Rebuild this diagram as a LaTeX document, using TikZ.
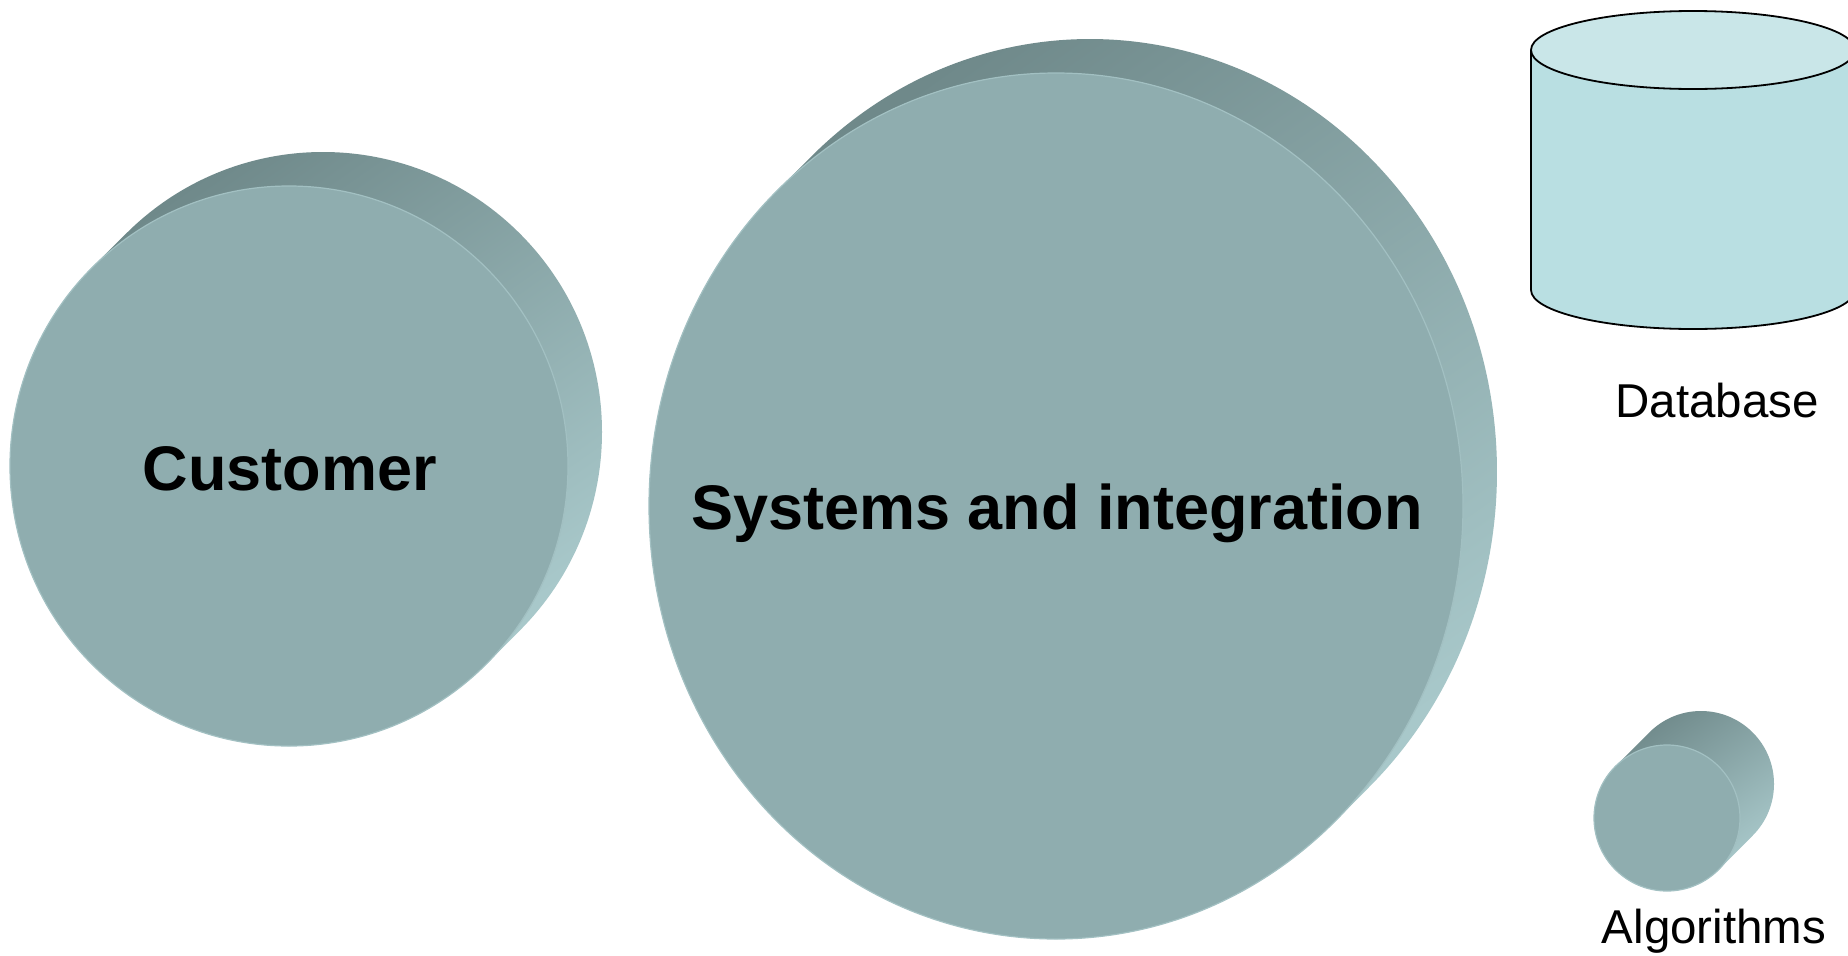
\documentclass[tikz,border=0pt]{standalone}
\usepackage{fontspec}
\setmainfont{Liberation Sans}
\definecolor{faceC}{HTML}{8FADAF}
\definecolor{faceEdge}{HTML}{A2C0C2}
\definecolor{sideDark}{HTML}{6F898A}
\definecolor{sideLight}{HTML}{A8C8CA}
\definecolor{dbTop}{HTML}{C9E6E8}
\definecolor{dbBody}{HTML}{B9DFE2}
\tikzset{
  sideshade/.style={top color=sideDark, bottom color=sideLight, shading angle=35},
  facefill/.style={fill=faceC, draw=faceEdge, line width=1.2pt},
  boldlabel/.style={font=\fontsize{63}{70}\selectfont\bfseries, anchor=base, inner sep=0pt},
  plainlabel/.style={font=\fontsize{47.5}{54}\selectfont, anchor=base, inner sep=0pt},
  dbline/.style={draw=black, line width=1.8pt}
}
% #1 cx, #2 cy, #3 rx, #4 ry, #5 tangent angle
\newcommand{\mydisk}[5]{%
  \shade[sideshade] (#1,#2) ++(180+#5:#3 and #4) -- ++(34,-34)
     arc[start angle=180+#5, end angle=360+#5, x radius=#3, y radius=#4]
     -- ++(-34,34)
     arc[start angle=#5, end angle=#5-180, x radius=#3, y radius=#4] -- cycle;
  \path[facefill] (#1,#2) ellipse [x radius=#3, y radius=#4];
}
\begin{document}
\begin{tikzpicture}[x=1pt,y=-1pt]
\useasboundingbox (0,0) rectangle (1848,956);
\fill[white] (0,0) rectangle (1848,956);
% Customer disk
\mydisk{289}{466}{279}{280}{45}
\node[boldlabel] (customer) at (290,490) {Customer};
% Systems disk
\mydisk{1056}{506}{407}{433}{46.8}
\node[boldlabel] (systems) at (1057,529) {Systems and integration};
% Algorithms disk
\mydisk{1667}{818}{73}{73}{45}
\node[plainlabel] (algorithms) at (1714,943) {Algorithms};
% Database cylinder
\path[fill=dbBody] (1531,50) -- (1531,290)
   arc[start angle=180, end angle=0, x radius=162, y radius=39] -- (1855,50) -- cycle;
\draw[dbline] (1531,50) -- (1531,290)
   arc[start angle=180, end angle=0, x radius=162, y radius=39] -- (1855,50);
\path[dbline, fill=dbTop] (1693,50) ellipse [x radius=162, y radius=39];
\node[plainlabel] (database) at (1717,417) {Database};
\end{tikzpicture}
\end{document}
